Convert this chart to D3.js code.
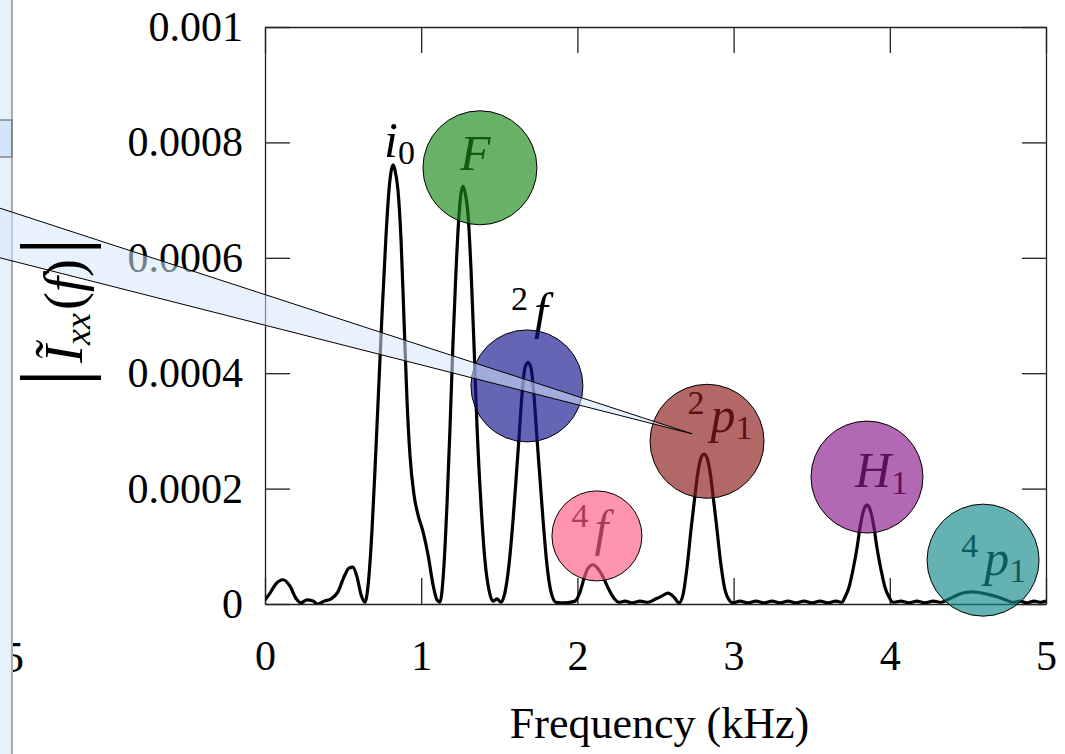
<!DOCTYPE html>
<html>
<head>
<meta charset="utf-8">
<script src="https://cdn.jsdelivr.net/npm/d3@7"></script>
<style>
    body { margin: 0; background: #fff; }
    svg { display: block; }
</style>
</head>
<body>
<div id="chart"></div>
<script>

// spectrum: frequency (kHz) and amplitude (units of 1e-4)
const freqKHz = [
    0.000, 0.032, 0.070, 0.115, 0.160, 0.198, 0.230, 0.269, 0.307, 0.339, 0.378, 0.423, 0.467, 0.506, 0.538, 0.563, 0.589, 0.615, 0.640,
    0.666, 0.685, 0.704, 0.723, 0.749, 0.775, 0.794, 0.807, 0.820, 0.832, 0.851, 0.871, 0.890, 0.909, 0.928, 0.954, 0.980, 1.012, 1.044, 1.076, 1.101, 1.120,
    1.146, 1.165, 1.184, 1.203, 1.223, 1.242, 1.255, 1.268, 1.280, 1.300, 1.319, 1.338, 1.357, 1.383, 1.408, 1.434, 1.460, 1.485, 1.511,
    1.537, 1.562, 1.588, 1.607, 1.626, 1.645, 1.664, 1.684, 1.703, 1.722, 1.741, 1.761, 1.780, 1.805, 1.831, 1.863,
    1.921, 1.985, 2.017, 2.043, 2.068, 2.100, 2.132, 2.164, 2.196, 2.234, 2.266,
    2.305, 2.350, 2.401, 2.452, 2.503, 2.542, 2.580, 2.618, 2.650,
    2.676, 2.702, 2.727, 2.753, 2.772, 2.791, 2.810, 2.830, 2.849, 2.868, 2.894, 2.919, 2.945, 2.971, 2.996,
    3.041, 3.092, 3.143, 3.195, 3.246, 3.297, 3.348, 3.399, 3.451, 3.502, 3.553, 3.604, 3.655, 3.694,
    3.713, 3.739, 3.764, 3.790, 3.809, 3.828, 3.841, 3.854, 3.867, 3.880, 3.899, 3.918, 3.944, 3.969, 3.995, 4.021,
    4.072, 4.123, 4.174, 4.225, 4.277, 4.328,
    4.366, 4.405, 4.443, 4.482, 4.526, 4.571, 4.622, 4.693, 4.744, 4.789,
    4.834, 4.878, 4.923, 4.968, 5.000
];
const ampE4 = [
    0.07, 0.19, 0.35, 0.42, 0.31, 0.10, 0.02, 0.07, 0.05, 0.00, 0.05, 0.09, 0.21, 0.47, 0.62, 0.64, 0.47, 0.16, 0.03,
    0.50, 1.28, 2.32, 3.45, 5.01, 6.40, 7.18, 7.49, 7.61, 7.52, 7.18, 6.31, 4.92, 3.54, 2.58, 1.89, 1.54, 1.25, 0.85, 0.33, 0.07, 0.03,
    0.68, 1.72, 3.02, 4.49, 5.79, 6.74, 7.12, 7.24, 7.14, 6.74, 5.79, 4.49, 3.10, 1.72, 0.76, 0.24, 0.05, 0.09, 0.03,
    0.21, 0.68, 1.46, 2.15, 2.88, 3.62, 4.09, 4.19, 4.09, 3.62, 2.88, 2.15, 1.46, 0.68, 0.21, 0.03,
    0.02, 0.05, 0.21, 0.45, 0.62, 0.68, 0.61, 0.47, 0.28, 0.10, 0.03,
    0.05, 0.02, 0.05, 0.03, 0.09, 0.14, 0.19, 0.12, 0.02,
    0.16, 0.64, 1.28, 1.89, 2.29, 2.53, 2.60, 2.53, 2.29, 1.89, 1.28, 0.68, 0.24, 0.07, 0.02,
    0.05, 0.02, 0.05, 0.02, 0.05, 0.02, 0.05, 0.02, 0.05, 0.02, 0.05, 0.02, 0.05, 0.03,
    0.12, 0.29, 0.59, 0.97, 1.32, 1.58, 1.68, 1.72, 1.68, 1.58, 1.32, 0.97, 0.59, 0.29, 0.12, 0.03,
    0.05, 0.02, 0.05, 0.02, 0.05, 0.03,
    0.07, 0.12, 0.17, 0.20, 0.21, 0.20, 0.17, 0.12, 0.07, 0.03,
    0.05, 0.02, 0.05, 0.03, 0.05
];

const xTicks = [0, 1, 2, 3, 4, 5];
const xTickLabels = ["0", "1", "2", "3", "4", "5"];
const yTicks = [0, 0.0002, 0.0004, 0.0006, 0.0008, 0.001];
const yTickLabels = ["0", "0.0002", "0.0004", "0.0006", "0.0008", "0.001"];

// peak markers: circle centres (kHz, amplitude 1e-4)
const markerNames = ["F", "2f", "4f", "2p1", "H1", "4p1"];
const markerFreq = [1.376, 1.677, 2.125, 2.830, 3.854, 4.597];
const markerAmp = [7.56, 3.78, 1.18, 2.82, 2.20, 0.76];

// peak labels: start of text / baseline (kHz, amplitude 1e-4)
const labelNames = ["i0", "F", "2f", "4f", "2p1", "H1", "4p1"];
const labelFreq = [0.762, 1.248, 1.575, 1.962, 2.705, 3.777, 4.458];
const labelAmp = [7.75, 7.52, 4.78, 1.02, 2.98, 2.03, 0.50];

// zoom callout wedge (kHz, amplitude 1e-4), runs off to the left panel
const calloutFreq = [-1.697, 2.734, -1.697];
const calloutAmp = [6.86, 2.95, 6.00];


// styles
const markerStyle = {
    "F":   {color: "#1a8a1a", r: 57},
    "2f":  {color: "#15158f", r: 56},
    "4f":  {color: "#ff5c86", r: 45},
    "2p1": {color: "#8b1a1a", r: 57},
    "H1":  {color: "#8b1a8b", r: 56},
    "4p1": {color: "#158a8a", r: 56}
};

// label pieces: it = italic, sup / sub = raised / lowered small text
const labelParts = {
    "i0":  [{t: "i", it: true}, {t: "0", sub: true}],
    "F":   [{t: "F", it: true}],
    "2f":  [{t: "2", sup: true}, {t: "f", it: true}],
    "4f":  [{t: "4", sup: true}, {t: "f", it: true}],
    "2p1": [{t: "2", sup: true}, {t: "p", it: true}, {t: "1", sub: true}],
    "H1":  [{t: "H", it: true}, {t: "1", sub: true}],
    "4p1": [{t: "4", sup: true}, {t: "p", it: true}, {t: "1", sub: true}]
};

const serif = "'Liberation Serif', 'DejaVu Serif', serif";

const width = 1065, height = 754;
const margin = {top: 27, right: 19, bottom: 150, left: 265};
const w = width - margin.left - margin.right;
const h = height - margin.top - margin.bottom;

const svg = d3.select("#chart").append("svg")
    .attr("width", width)
    .attr("height", height);

// left neighbour panel (cut off)
svg.append("rect")
    .attr("x", 0).attr("y", 0)
    .attr("width", 12).attr("height", height)
    .attr("fill", "#e7f1fc");
svg.append("rect")
    .attr("x", -1).attr("y", 120)
    .attr("width", 13).attr("height", 37)
    .attr("fill", "#d3e5f8")
    .attr("stroke", "#555").attr("stroke-width", 1);
svg.append("line")
    .attr("x1", 12).attr("x2", 12)
    .attr("y1", 0).attr("y2", height)
    .attr("stroke", "#777").attr("stroke-width", 1.2);

// fragment of the neighbouring axis label
svg.append("clipPath").attr("id", "frag-clip")
    .append("rect").attr("x", 13).attr("y", 600).attr("width", 40).attr("height", 100);
svg.append("text")
    .attr("clip-path", "url(#frag-clip)")
    .attr("x", 24).attr("y", 672)
    .attr("text-anchor", "end")
    .attr("font-family", serif)
    .attr("font-size", 44)
    .text("5");

const g = svg.append("g")
    .attr("transform", `translate(${margin.left},${margin.top})`);

const x = d3.scaleLinear().domain([0, 5]).range([0, w]);
const y = d3.scaleLinear().domain([0, 0.001]).range([h, 0]);

// axes, ticks point inward on all four sides
const styleAxis = sel => {
    sel.attr("font-family", serif).attr("font-size", 42);
    sel.selectAll(".domain").attr("stroke", "#222").attr("stroke-width", 1.3);
    sel.selectAll(".tick line").attr("stroke", "#222").attr("stroke-width", 1.3);
};

g.append("g")
    .attr("transform", `translate(0,${h})`)
    .call(d3.axisBottom(x).tickValues(xTicks).tickFormat((d, i) => xTickLabels[i])
        .tickSize(-26).tickSizeOuter(0).tickPadding(36))
    .call(styleAxis);

g.append("g")
    .call(d3.axisTop(x).tickValues(xTicks).tickFormat("")
        .tickSize(-26).tickSizeOuter(0))
    .call(styleAxis);

g.append("g")
    .call(d3.axisLeft(y).tickValues(yTicks).tickFormat((d, i) => yTickLabels[i])
        .tickSize(-25).tickSizeOuter(0).tickPadding(22))
    .call(styleAxis);

g.append("g")
    .attr("transform", `translate(${w},0)`)
    .call(d3.axisRight(y).tickValues(yTicks).tickFormat("")
        .tickSize(-24).tickSizeOuter(0))
    .call(styleAxis);

// axis titles
svg.append("text")
    .attr("x", margin.left + w / 2 + 4)
    .attr("y", 738)
    .attr("text-anchor", "middle")
    .attr("font-family", serif)
    .attr("font-size", 44)
    .text("Frequency (kHz)");

let ylab = svg.append("text")
    .attr("transform", "translate(82,312) rotate(-90)")
    .attr("text-anchor", "middle")
    .attr("font-family", serif)
    .attr("font-size", 54);
ylab.append("tspan").attr("font-size", 88).text("|");
ylab.append("tspan").attr("font-style", "italic").attr("dx", 6).text("Ĩ");
ylab.append("tspan").attr("font-style", "italic").attr("font-size", 36).attr("dy", 8).text("xx");
ylab.append("tspan").attr("dy", -8).attr("dx", 3).text("(");
ylab.append("tspan").attr("font-style", "italic").text("f");
ylab.append("tspan").text(")");
ylab.append("tspan").attr("font-size", 88).attr("dx", 4).text("|");

// spectrum curve
let data = freqKHz.map((f, i) => ({f: f, a: ampE4[i] * 1e-4}));

g.append("clipPath").attr("id", "plot-clip")
    .append("rect").attr("width", w).attr("height", h);

let line = d3.line()
    .x(d => x(d.f))
    .y(d => y(d.a))
    .curve(d3.curveMonotoneX);

g.append("path")
    .datum(data)
    .attr("clip-path", "url(#plot-clip)")
    .attr("fill", "none")
    .attr("stroke", "#000")
    .attr("stroke-width", 3.2)
    .attr("stroke-linejoin", "round")
    .attr("d", line);

// peak labels (black, tinted by the circles drawn over them)
labelNames.forEach((name, i) => {
    let t = g.append("text")
        .attr("x", x(labelFreq[i]))
        .attr("y", y(labelAmp[i] * 1e-4))
        .attr("font-family", serif)
        .attr("font-size", 50)
        .attr("fill", "#000");
    let shift = 0;
    let prevSup = false;
    labelParts[name].forEach(p => {
        let target = p.sup ? -18 : p.sub ? 7 : 0;
        let ts = t.append("tspan").text(p.t).attr("dy", target - shift);
        shift = target;
        if (p.it) ts.attr("font-style", "italic");
        if (p.sup || p.sub) ts.attr("font-size", 34);
        if (prevSup) ts.attr("dx", 6);
        prevSup = !!p.sup;
    });
});

// translucent peak markers
markerNames.forEach((name, i) => {
    g.append("circle")
        .attr("cx", x(markerFreq[i]))
        .attr("cy", y(markerAmp[i] * 1e-4))
        .attr("r", markerStyle[name].r)
        .attr("fill", markerStyle[name].color)
        .attr("fill-opacity", 0.66)
        .attr("stroke", "#000")
        .attr("stroke-width", 1);
});

// callout wedge on top
let wedge = calloutFreq.map((f, i) => [x(f), y(calloutAmp[i] * 1e-4)]);
g.append("path")
    .attr("d", d3.line()(wedge) + "Z")
    .attr("fill", "#d4e8fc")
    .attr("fill-opacity", 0.55)
    .attr("stroke", "none");
g.append("path")
    .attr("d", d3.line()(wedge))
    .attr("fill", "none")
    .attr("stroke", "#000")
    .attr("stroke-width", 1);

</script>
</body>
</html>
